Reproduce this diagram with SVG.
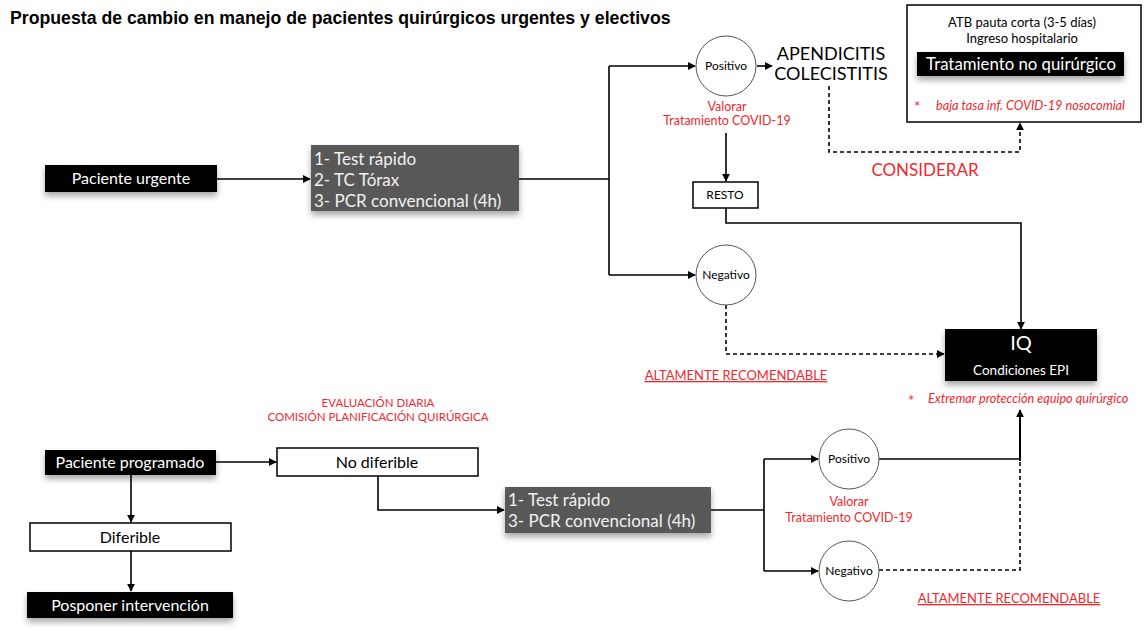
<svg xmlns="http://www.w3.org/2000/svg" width="1144" height="630" viewBox="0 0 1144 630">
<style>
text{font-family:Lato,"Open Sans","DejaVu Sans",sans-serif}
.title{font-family:"Liberation Sans",Arial,sans-serif;font-weight:bold;font-size:17.7px;fill:#000}
.blk{fill:#000}
.gry{fill:#595959}
.wbox{fill:#fff;stroke:#000;stroke-width:1.5}
.circ{fill:#fff;stroke:#555;stroke-width:1}
.wt{fill:#fff;text-anchor:middle}
.gt{fill:#f2f2f2;font-size:17px}
.bt{fill:#000;text-anchor:middle}
.red{fill:#f0282d;text-anchor:middle}
.ital{fill:#f0282d;font-style:italic}
.ast{fill:#f0282d;font-size:15px}
.ln{fill:none;stroke:#000;stroke-width:1.6}
.ar{marker-end:url(#ah)}
.dash{stroke-dasharray:4 3}
</style>
<defs>
<marker id="ah" viewBox="0 0 10 10" refX="9" refY="5" markerWidth="8" markerHeight="8" markerUnits="userSpaceOnUse" orient="auto">
<path d="M0,0 L10,5 L0,10 z" fill="#000"/>
</marker>
<filter id="sh" x="-10%" y="-20%" width="120%" height="170%">
<feDropShadow dx="0" dy="4" stdDeviation="3" flood-color="#000" flood-opacity="0.35"/>
</filter>
</defs>
<rect width="1144" height="630" fill="#fff"/>
<text class="title" x="10" y="24">Propuesta de cambio en manejo de pacientes quirúrgicos urgentes y electivos</text>

<g id="connectors">
<path class="ln ar" d="M217,179 H310"/>
<path class="ln" d="M519,179 H609 M609,66 V275"/>
<path class="ln ar" d="M609,66 H695"/>
<path class="ln ar" d="M609,275 H695"/>
<path class="ln ar" d="M757,66 H772"/>
<path class="ln ar" d="M726,133 V181"/>
<path class="ln ar" d="M726,208 V223 H1021 V329"/>
<path class="ln ar dash" d="M726,305 V354 H944"/>
<path class="ln ar dash" d="M829,86 V152 H1020 V123"/>
<path class="ln ar" d="M216,462 H276"/>
<path class="ln ar" d="M131,475 V522"/>
<path class="ln ar" d="M131,551 V591"/>
<path class="ln ar" d="M378,476 V510 H504"/>
<path class="ln" d="M711,510 H764 M764,459 V571"/>
<path class="ln ar" d="M764,459 H818"/>
<path class="ln ar" d="M764,571 H818"/>
<path class="ln" d="M879,459 H1020"/>
<path class="ln ar" style="stroke-width:2" d="M1020,461 V410"/>
<path class="ln dash" d="M879,570 H1020 V461"/>
</g>

<g id="paciente-urgente">
<rect class="blk" x="45" y="165" width="172" height="27" filter="url(#sh)"/>
<text class="wt" x="131" y="184" style="font-size:16px">Paciente urgente</text>
</g>

<g id="pruebas-urgente">
<rect class="gry" x="311" y="145" width="208" height="66" filter="url(#sh)"/>
<text class="gt" x="314" y="165">1- Test rápido</text>
<text class="gt" x="314" y="186">2- TC Tórax</text>
<text class="gt" x="314" y="207">3- PCR convencional (4h)</text>
</g>

<g id="positivo-urgente">
<circle class="circ" cx="726" cy="66" r="30"/>
<text class="bt" x="726" y="70" font-size="12">Positivo</text>
<text class="red" x="727" y="111" font-size="12.5">Valorar</text>
<text class="red" x="727" y="125" font-size="12.5">Tratamiento COVID-19</text>
</g>

<g id="apendicitis">
<text class="bt" x="831" y="60" font-size="18">APENDICITIS</text>
<text class="bt" x="831" y="80" font-size="18">COLECISTITIS</text>
</g>

<g id="tratamiento-no-quirurgico">
<rect x="907" y="5" width="234" height="117" fill="#fff" stroke="#000" stroke-width="1.5"/>
<text class="bt" x="1022" y="27" font-size="13">ATB pauta corta (3-5 días)</text>
<text class="bt" x="1022" y="43" font-size="13">Ingreso hospitalario</text>
<rect class="blk" x="917" y="52" width="207" height="24" filter="url(#sh)"/>
<text class="wt" x="1021" y="70" style="font-size:16.8px">Tratamiento no quirúrgico</text>
<text class="ast" x="914" y="112">*</text>
<text class="ital" x="936" y="110" font-size="12.7">baja tasa inf. COVID-19 nosocomial</text>
</g>

<g id="considerar">
<text class="red" x="925" y="176" font-size="17">CONSIDERAR</text>
</g>

<g id="resto">
<rect class="wbox" x="693" y="182" width="65" height="26"/>
<text class="bt" x="725" y="199" font-size="12">RESTO</text>
</g>

<g id="negativo-urgente">
<circle class="circ" cx="726" cy="275" r="30"/>
<text class="bt" x="726" y="279" font-size="12">Negativo</text>
<text class="red" x="736" y="380" font-size="13" text-decoration="underline">ALTAMENTE RECOMENDABLE</text>
</g>

<g id="iq">
<rect class="blk" x="945" y="329" width="152" height="52" filter="url(#sh)"/>
<text class="wt" x="1021" y="350" style="font-size:20px">IQ</text>
<text class="wt" x="1021" y="375" style="font-size:13.5px">Condiciones EPI</text>
<text class="ast" x="908" y="406">*</text>
<text class="ital" x="928" y="403" font-size="12.7">Extremar protección equipo quirúrgico</text>
</g>

<g id="evaluacion">
<text class="red" x="378" y="407" font-size="11.5">EVALUACIÓN DIARIA</text>
<text class="red" x="378" y="421" font-size="11.5">COMISIÓN PLANIFICACIÓN QUIRÚRGICA</text>
</g>

<g id="paciente-programado">
<rect class="blk" x="45" y="450" width="171" height="25" filter="url(#sh)"/>
<text class="wt" x="130" y="468" style="font-size:16px">Paciente programado</text>
</g>

<g id="no-diferible">
<rect class="wbox" x="277" y="448" width="201" height="28"/>
<text class="bt" x="377" y="468" font-size="16">No diferible</text>
</g>

<g id="diferible">
<rect class="wbox" x="30" y="523" width="201" height="28"/>
<text class="bt" x="130" y="543" font-size="16">Diferible</text>
</g>

<g id="posponer">
<rect class="blk" x="27" y="592" width="206" height="26" filter="url(#sh)"/>
<text class="wt" x="130" y="611" style="font-size:16px">Posponer intervención</text>
</g>

<g id="pruebas-programado">
<rect class="gry" x="505" y="487" width="206" height="46" filter="url(#sh)"/>
<text class="gt" x="508" y="506">1- Test rápido</text>
<text class="gt" x="508" y="527">3- PCR convencional (4h)</text>
</g>

<g id="positivo-programado">
<circle class="circ" cx="849" cy="459" r="30"/>
<text class="bt" x="849" y="463" font-size="12">Positivo</text>
<text class="red" x="849" y="506" font-size="12.5">Valorar</text>
<text class="red" x="849" y="522" font-size="12.5">Tratamiento COVID-19</text>
</g>

<g id="negativo-programado">
<circle class="circ" cx="849" cy="571" r="30"/>
<text class="bt" x="849" y="575" font-size="12">Negativo</text>
<text class="red" x="1009" y="603" font-size="13" text-decoration="underline">ALTAMENTE RECOMENDABLE</text>
</g>
</svg>
